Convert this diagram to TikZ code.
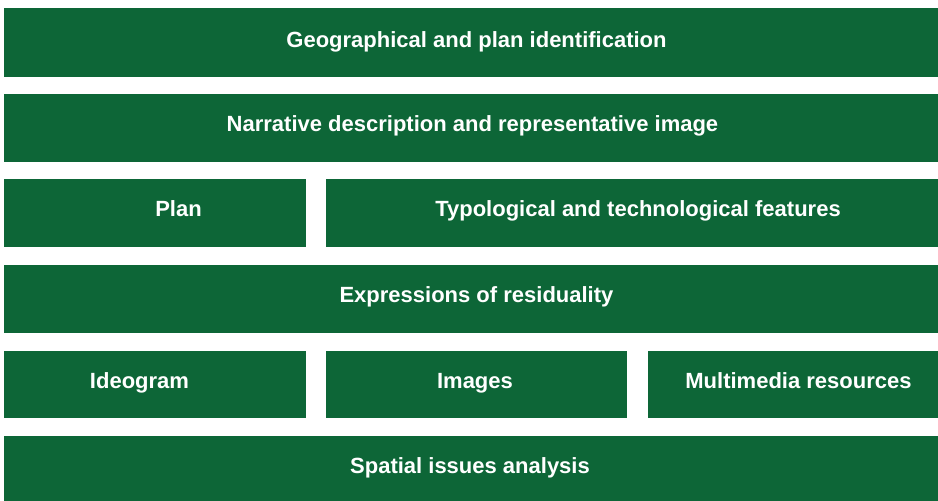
\documentclass[tikz,border=0pt]{standalone}
\usepackage{fontspec}
\setmainfont{Liberation Sans}
\definecolor{boxgreen}{RGB}{13,102,55}
\tikzset{
  greenbox/.style={fill=boxgreen, draw=none, inner sep=0pt, outer sep=0pt, anchor=north west},
  boxlabel/.style={text=white, font=\fontsize{22}{26}\selectfont\bfseries, anchor=base, inner sep=0pt}
}
\begin{document}
\begin{tikzpicture}[x=1pt,y=-1pt]
\useasboundingbox (0,0) rectangle (938,501);
% row 1
\node[greenbox, minimum width=934pt, minimum height=69pt] (r1) at (4,8) {};
\node[boxlabel] (t1) at (476.5,47) {Geographical and plan identification};
% row 2
\node[greenbox, minimum width=934pt, minimum height=68pt] (r2) at (4,94) {};
\node[boxlabel] (t2) at (472.5,131.5) {Narrative description and representative image};
% row 3
\node[greenbox, minimum width=302pt, minimum height=68pt] (r3a) at (4,179) {};
\node[greenbox, minimum width=612pt, minimum height=68pt] (r3b) at (326,179) {};
\node[boxlabel] (t3a) at (178.5,216.5) {Plan};
\node[boxlabel] (t3b) at (638,216.5) {Typological and technological features};
% row 4
\node[greenbox, minimum width=934pt, minimum height=68pt] (r4) at (4,265) {};
\node[boxlabel] (t4) at (476.5,302.5) {Expressions of residuality};
% row 5
\node[greenbox, minimum width=302pt, minimum height=67pt] (r5a) at (4,351) {};
\node[greenbox, minimum width=301pt, minimum height=67pt] (r5b) at (326,351) {};
\node[greenbox, minimum width=290pt, minimum height=67pt] (r5c) at (648,351) {};
\node[boxlabel] (t5a) at (139.5,388) {Ideogram};
\node[boxlabel] (t5b) at (475,388) {Images};
\node[boxlabel] (t5c) at (798.5,388) {Multimedia resources};
% row 6
\node[greenbox, minimum width=934pt, minimum height=65pt] (r6) at (4,436) {};
\node[boxlabel] (t6) at (470,473) {Spatial issues analysis};
\end{tikzpicture}
\end{document}
